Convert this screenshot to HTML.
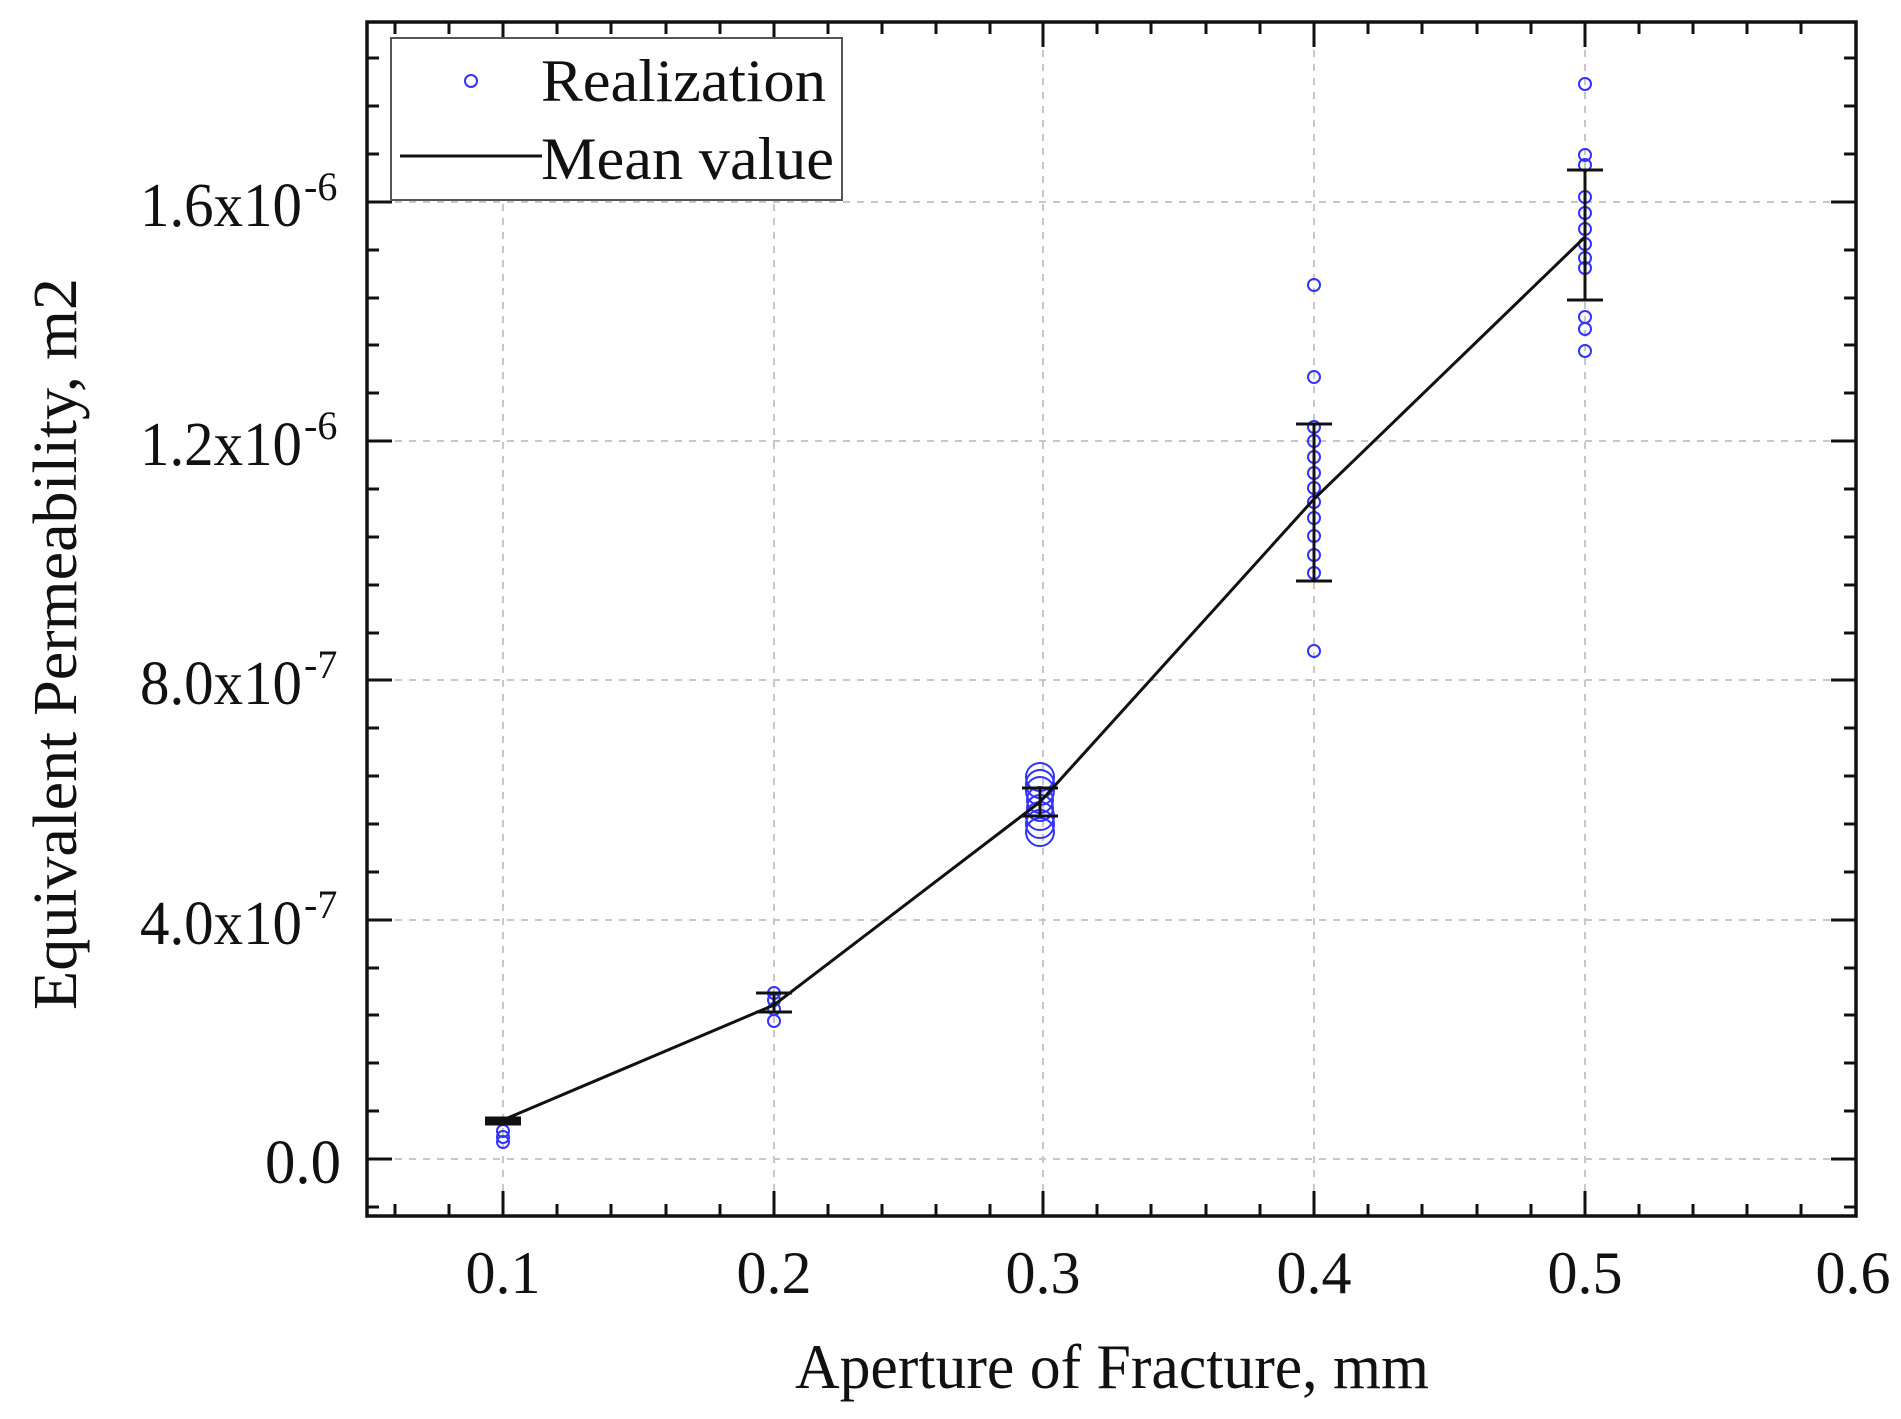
<!DOCTYPE html>
<html><head><meta charset="utf-8"><style>
html,body{margin:0;padding:0;background:#fff;}
svg{display:block;}
text{font-family:"Liberation Serif",serif;fill:#111;}
</style></head><body>
<svg width="1901" height="1419" viewBox="0 0 1901 1419" xmlns="http://www.w3.org/2000/svg">
<g stroke="#c8c8c8" stroke-width="2" stroke-dasharray="7,7">
<line x1="503" y1="22" x2="503" y2="1216"/>
<line x1="774" y1="22" x2="774" y2="1216"/>
<line x1="1043" y1="22" x2="1043" y2="1216"/>
<line x1="1314" y1="22" x2="1314" y2="1216"/>
<line x1="1585" y1="22" x2="1585" y2="1216"/>
<line x1="367" y1="1159" x2="1856" y2="1159"/>
<line x1="367" y1="920" x2="1856" y2="920"/>
<line x1="367" y1="680" x2="1856" y2="680"/>
<line x1="367" y1="441" x2="1856" y2="441"/>
<line x1="367" y1="202" x2="1856" y2="202"/>
</g>
<g stroke="#111" stroke-width="3">
<path d="M503 1216v-25M774 1216v-25M1043 1216v-25M1314 1216v-25M1585 1216v-25
M503 22v25M774 22v25M1043 22v25M1314 22v25M1585 22v25
M367 1159h25M367 920h25M367 680h25M367 441h25M367 202h25
M1856 1159h-25M1856 920h-25M1856 680h-25M1856 441h-25M1856 202h-25"/>
<path d="M395 1216v-12M449 1216v-12M557 1216v-12M611 1216v-12M666 1216v-12M720 1216v-12M828 1216v-12M882 1216v-12M936 1216v-12M990 1216v-12M1097 1216v-12M1151 1216v-12M1206 1216v-12M1260 1216v-12M1368 1216v-12M1422 1216v-12M1477 1216v-12M1531 1216v-12M1639 1216v-12M1693 1216v-12M1747 1216v-12M1801 1216v-12
M395 22v12M449 22v12M557 22v12M611 22v12M666 22v12M720 22v12M828 22v12M882 22v12M936 22v12M990 22v12M1097 22v12M1151 22v12M1206 22v12M1260 22v12M1368 22v12M1422 22v12M1477 22v12M1531 22v12M1639 22v12M1693 22v12M1747 22v12M1801 22v12
M367 1207h12M367 1111h12M367 1063h12M367 1015h12M367 968h12M367 872h12M367 824h12M367 776h12M367 728h12M367 633h12M367 585h12M367 537h12M367 489h12M367 393h12M367 345h12M367 298h12M367 250h12M367 154h12M367 106h12M367 58h12
M1856 1207h-12M1856 1111h-12M1856 1063h-12M1856 1015h-12M1856 968h-12M1856 872h-12M1856 824h-12M1856 776h-12M1856 728h-12M1856 633h-12M1856 585h-12M1856 537h-12M1856 489h-12M1856 393h-12M1856 345h-12M1856 298h-12M1856 250h-12M1856 154h-12M1856 106h-12M1856 58h-12"/>
</g>
<g fill="none" stroke="#3333ff" stroke-width="2">
<circle cx="503" cy="1131" r="6"/><circle cx="503" cy="1137" r="6"/><circle cx="503" cy="1142" r="6"/>
<circle cx="774" cy="993" r="6"/><circle cx="774" cy="1000" r="6"/><circle cx="774" cy="1009" r="6"/><circle cx="774" cy="1021" r="6"/>
<circle cx="1040" cy="777" r="14"/><circle cx="1040" cy="784" r="14"/><circle cx="1040" cy="791" r="14"/><circle cx="1040" cy="800" r="13"/><circle cx="1040" cy="808" r="13"/><circle cx="1040" cy="816" r="14"/><circle cx="1040" cy="824" r="14"/><circle cx="1040" cy="832" r="14"/>
<circle cx="1314" cy="285" r="6"/><circle cx="1314" cy="377" r="6"/><circle cx="1314" cy="427" r="6"/><circle cx="1314" cy="441" r="6"/><circle cx="1314" cy="457" r="6"/><circle cx="1314" cy="473" r="6"/><circle cx="1314" cy="488" r="6"/><circle cx="1314" cy="502" r="6"/><circle cx="1314" cy="518" r="6"/><circle cx="1314" cy="536" r="6"/><circle cx="1314" cy="555" r="6"/><circle cx="1314" cy="573" r="6"/><circle cx="1314" cy="651" r="6"/>
<circle cx="1585" cy="84" r="6"/><circle cx="1585" cy="155" r="6"/><circle cx="1585" cy="165" r="6"/><circle cx="1585" cy="197" r="6"/><circle cx="1585" cy="213" r="6"/><circle cx="1585" cy="229" r="6"/><circle cx="1585" cy="244" r="6"/><circle cx="1585" cy="258" r="6"/><circle cx="1585" cy="268" r="6"/><circle cx="1585" cy="317" r="6"/><circle cx="1585" cy="329" r="6"/><circle cx="1585" cy="351" r="6"/>
</g>
<polyline points="503,1120 774,1005 1040,802 1314,499 1585,237" fill="none" stroke="#111" stroke-width="3"/>
<g stroke="#111" stroke-width="3">
<path d="M485 1118h36M485 1121h36M485 1124h36"/>
<path d="M774 993v19M756 993h36M756 1012h36"/>
<path d="M1040 788v28M1022 788h36M1022 816h36"/>
<path d="M1314 424v157M1296 424h36M1296 581h36"/>
<path d="M1585 170v130M1567 170h36M1567 300h36"/>
</g>
<rect x="367" y="22" width="1489" height="1194" fill="none" stroke="#111" stroke-width="3.5"/>
<rect x="391" y="38" width="451" height="162" fill="#fff" stroke="#555" stroke-width="2"/>
<circle cx="471" cy="81" r="6" fill="none" stroke="#3333ff" stroke-width="2"/>
<text x="541" y="101" font-size="60" textLength="285" lengthAdjust="spacingAndGlyphs">Realization</text>
<line x1="400" y1="156" x2="542" y2="156" stroke="#111" stroke-width="3"/>
<text x="541" y="179" font-size="60" textLength="293" lengthAdjust="spacingAndGlyphs">Mean value</text>
<g font-size="62">
<text x="140" y="226" textLength="162" lengthAdjust="spacingAndGlyphs">1.6x10</text><text x="304" y="200" font-size="40">-6</text>
<text x="140" y="465" textLength="162" lengthAdjust="spacingAndGlyphs">1.2x10</text><text x="304" y="439" font-size="40">-6</text>
<text x="140" y="704" textLength="162" lengthAdjust="spacingAndGlyphs">8.0x10</text><text x="304" y="678" font-size="40">-7</text>
<text x="140" y="944" textLength="162" lengthAdjust="spacingAndGlyphs">4.0x10</text><text x="304" y="918" font-size="40">-7</text>
<text x="265" y="1183" textLength="76" lengthAdjust="spacingAndGlyphs">0.0</text>
</g>
<g font-size="60" text-anchor="middle">
<text x="503" y="1293">0.1</text>
<text x="774" y="1293">0.2</text>
<text x="1043" y="1293">0.3</text>
<text x="1314" y="1293">0.4</text>
<text x="1585" y="1293">0.5</text>
<text x="1853" y="1293">0.6</text>
</g>
<text x="1112" y="1388" font-size="64" text-anchor="middle" textLength="634" lengthAdjust="spacingAndGlyphs">Aperture of Fracture, mm</text>
<text transform="translate(76,644) rotate(-90)" font-size="62" text-anchor="middle" textLength="732" lengthAdjust="spacingAndGlyphs">Equivalent Permeability, m2</text>
</svg>
</body></html>
